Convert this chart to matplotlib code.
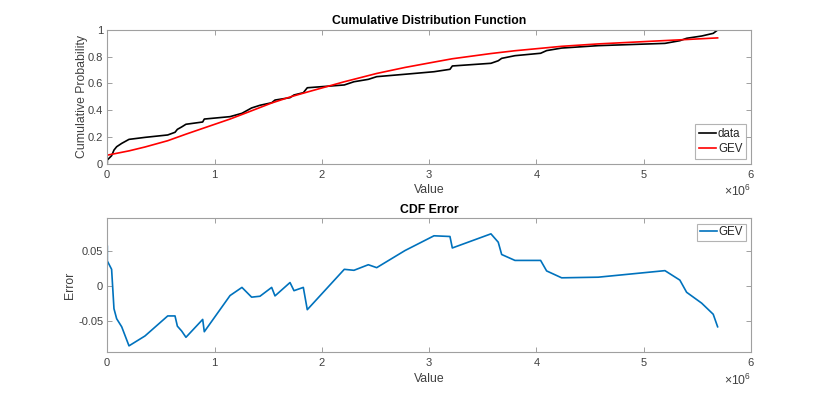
import matplotlib
matplotlib.use('Agg')
from matplotlib import pyplot as plt
from matplotlib.ticker import ScalarFormatter
import numpy as np

# values are in units of 1e6
value = [0, 0, 0.04, 0.062, 0.087, 0.134, 0.202, 0.351, 0.563, 0.631, 0.653, 0.693,
         0.733, 0.889, 0.904, 1.144, 1.255, 1.345, 1.423, 1.532, 1.563, 1.703, 1.740,
         1.827, 1.864, 2.209, 2.299, 2.433, 2.511, 2.775, 3.045, 3.194, 3.216, 3.576,
         3.644, 3.676, 3.800, 4.039, 4.095, 4.235, 4.576, 5.198, 5.337, 5.400, 5.540,
         5.648, 5.689]
data_cdf = [0.007, 0.028, 0.06, 0.102, 0.127, 0.152, 0.182, 0.197, 0.215, 0.235, 0.257,
            0.275, 0.295, 0.312, 0.334, 0.352, 0.377, 0.417, 0.437, 0.456, 0.476, 0.494,
            0.514, 0.531, 0.568, 0.589, 0.613, 0.631, 0.651, 0.669, 0.688, 0.706, 0.731,
            0.751, 0.770, 0.788, 0.808, 0.826, 0.846, 0.865, 0.883, 0.900, 0.920, 0.938,
            0.955, 0.975, 1.0]
cdf_error = [0.057, 0.036, 0.024, -0.0326, -0.047, -0.0586, -0.086, -0.0718, -0.043,
             -0.043, -0.0577, -0.0647, -0.0737, -0.048, -0.0657, -0.0137, -0.002, -0.016,
             -0.0147, -0.002, -0.0142, 0.005, -0.0067, -0.002, -0.034, 0.024, 0.0226,
             0.0306, 0.0264, 0.051, 0.0722, 0.0712, 0.0547, 0.075, 0.063, 0.0453, 0.0368,
             0.0368, 0.0217, 0.0118, 0.0127, 0.0221, 0.0085, -0.009, -0.0246, -0.0406,
             -0.0586]

# fitted GEV curve
gev_x = [0, 0.202, 0.351, 0.563, 0.733, 0.889, 1.144, 1.255, 1.532, 1.703, 1.864, 2.209,
         2.511, 2.775, 3.045, 3.216, 3.576, 3.800, 4.039, 4.235, 4.576, 5.198, 5.400, 5.689]
gev_cdf = [0.064, 0.096, 0.125, 0.172, 0.221, 0.264, 0.334, 0.368, 0.454, 0.499, 0.536,
           0.613, 0.675, 0.720, 0.760, 0.785, 0.824, 0.845, 0.863, 0.878, 0.896, 0.921,
           0.929, 0.941]

plt.rcParams['font.family'] = ['Liberation Sans', 'DejaVu Sans']
plt.rcParams['font.size'] = 8
plt.rcParams['lines.linewidth'] = 1.2
plt.rcParams['mathtext.fontset'] = 'custom'
plt.rcParams['mathtext.rm'] = 'Liberation Sans'

tickcol = '#404040'

def style(ax):
    for s in ax.spines.values():
        s.set_color('#a0a0a0')
        s.set_linewidth(0.8)
    ax.tick_params(direction='in', top=True, right=True, length=3.5, width=0.6,
                   color='#909090', labelcolor=tickcol, labelsize=8, pad=3)
    fmt = ScalarFormatter(useMathText=True)
    fmt.set_powerlimits((0, 0))
    ax.xaxis.set_major_formatter(fmt)
    ax.xaxis.get_offset_text().set_color(tickcol)
    ax.xaxis.get_offset_text().set_fontsize(8.8)

def legend_style(leg):
    leg.get_frame().set_edgecolor('#a0a0a0')
    leg.get_frame().set_linewidth(0.8)
    for t in leg.get_texts():
        t.set_color('#262626')

fig = plt.figure(figsize=(8.30, 3.99), dpi=100)
ax1 = fig.add_axes([0.1293, 0.5897, 0.7755, 0.3351])
ax2 = fig.add_axes([0.1293, 0.117, 0.7755, 0.3358])

x = np.array(value) * 1e6
gx = np.array(gev_x) * 1e6

ax1.plot(x, data_cdf, color='black', label='data')
ax1.plot(gx, gev_cdf, color='red', label='GEV')
ax1.set_xlim(0, 6e6)
ax1.set_ylim(0, 1)
ax1.set_yticks([0, 0.2, 0.4, 0.6, 0.8, 1])
ax1.set_yticklabels(['0', '0.2', '0.4', '0.6', '0.8', '1'])
ax1.set_xticks(np.arange(0, 7) * 1e6)
ax1.set_title('Cumulative Distribution Function', fontweight='bold', fontsize=8.8, pad=4)
ax1.set_xlabel('Value', fontsize=8.8, color=tickcol, labelpad=3)
ax1.set_ylabel('Cumulative Probability', fontsize=8.8, color=tickcol, labelpad=0)
style(ax1)
leg1 = ax1.legend(loc='lower right', fontsize=8.3, handlelength=1.5, handletextpad=0.15,
                  borderpad=0.3, labelspacing=0.3, fancybox=False, borderaxespad=0.45)
legend_style(leg1)

ax2.plot(x, cdf_error, color='#0072bd', label='GEV')
ax2.set_xlim(0, 6e6)
ax2.set_ylim(-0.0953, 0.0973)
ax2.set_yticks([-0.05, 0, 0.05])
ax2.set_yticklabels(['-0.05', '0', '0.05'])
ax2.set_xticks(np.arange(0, 7) * 1e6)
ax2.set_title('CDF Error', fontweight='bold', fontsize=8.8, pad=4)
ax2.set_xlabel('Value', fontsize=8.8, color=tickcol, labelpad=3)
ax2.set_ylabel('Error', fontsize=8.8, color=tickcol, labelpad=1.5)
style(ax2)
leg2 = ax2.legend(loc='upper right', fontsize=8.3, handlelength=1.5, handletextpad=0.15,
                  borderpad=0.25, fancybox=False, borderaxespad=0.45)
legend_style(leg2)

fig.savefig('out.png', dpi=100)
